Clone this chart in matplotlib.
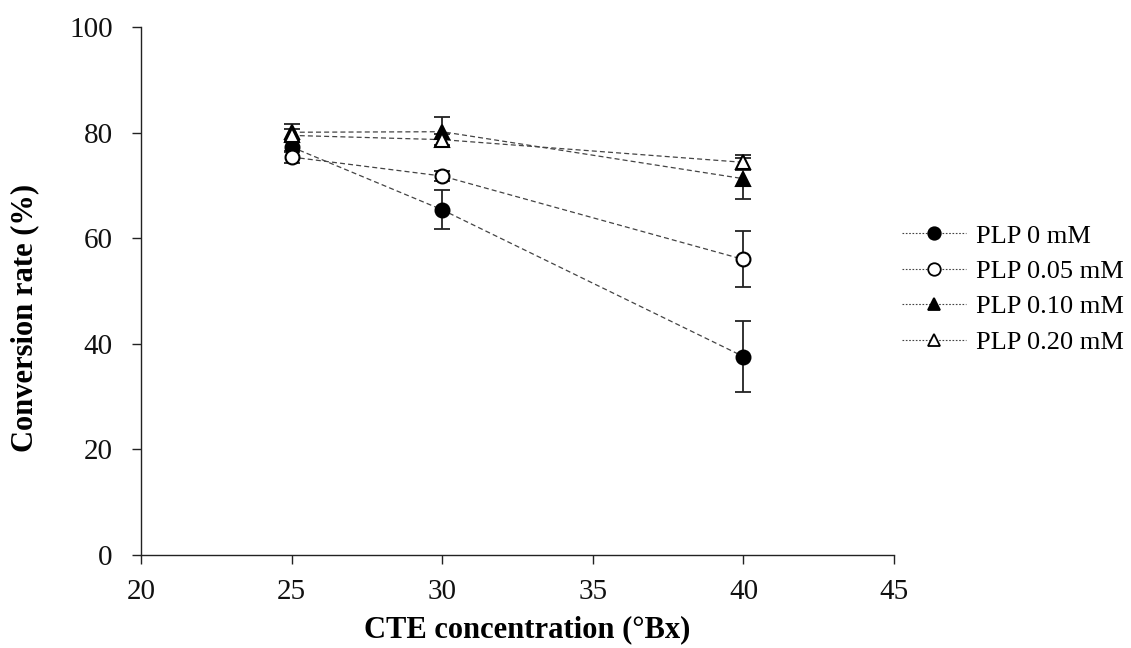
import matplotlib
matplotlib.use("Agg")
import matplotlib.pyplot as plt
import numpy as np

plt.rcParams['font.family'] = ['Liberation Serif', 'DejaVu Serif']

# CTE concentration (°Bx)
brix = [25, 30, 40]

# conversion rate (%) and error for each PLP dose
plp_0 = [77.3, 65.4, 37.6]
plp_0_err = [1.0, 3.7, 6.8]
plp_005 = [75.4, 71.8, 56.0]
plp_005_err = [1.2, 1.0, 5.3]
plp_010 = [80.1, 80.2, 71.3]
plp_010_err = [1.5, 2.8, 3.9]
plp_020 = [79.5, 78.7, 74.4]
plp_020_err = [1.2, 1.0, 1.4]

labels = ['PLP 0 mM', 'PLP 0.05 mM', 'PLP 0.10 mM', 'PLP 0.20 mM']

fig = plt.figure(figsize=(11.31, 6.48), dpi=100)
ax = fig.add_axes([0.1247, 0.1435, 0.6658, 0.8145])

series = [
    (plp_0, plp_0_err, 'o', 'black'),
    (plp_005, plp_005_err, 'o', 'white'),
    (plp_010, plp_010_err, '^', 'black'),
    (plp_020, plp_020_err, '^', 'white'),
]

for (vals, err, mk, fc), lab in zip(series, labels):
    ax.errorbar(brix, vals, yerr=err, fmt='none', ecolor='#222222',
                elinewidth=1.3, capsize=6, capthick=1.3, zorder=2)
    ax.plot(brix, vals, color='#444444', lw=0.9, dashes=(4, 2.5),
            zorder=3)
    ax.plot(brix, vals, ls='none', marker=mk, ms=10 if mk == 'o' else 10.5,
            mfc=fc, mec='black', mew=1.5, zorder=4)

# legend proxies: dotted line with marker in the middle
handles = []
for (vals, err, mk, fc), lab in zip(series, labels):
    h, = ax.plot([], [], color='#444444', lw=0.8, dashes=(1.5, 1.5),
                 marker=mk, ms=9, mfc=fc, mec='black',
                 mew=1.3, label=lab)
    handles.append(h)

leg = ax.legend(handles=handles, loc='center left',
                bbox_to_anchor=(1.01, 0.504), frameon=False, fontsize=19,
                handlelength=2.45, handletextpad=0.38, labelspacing=0.45,
                borderaxespad=0.0, borderpad=0.0)

ax.set_xlim(20, 45)
ax.set_ylim(0, 100)
ax.set_xticks([20, 25, 30, 35, 40, 45])
ax.set_yticks([0, 20, 40, 60, 80, 100])

for side in ['top', 'right']:
    ax.spines[side].set_visible(False)
for side in ['left', 'bottom']:
    ax.spines[side].set_linewidth(1.0)
    ax.spines[side].set_color('#222222')

ax.tick_params(axis='both', direction='out', length=6.5, width=1.0,
               labelsize=21, colors='#222222', labelcolor='#111111')
ax.tick_params(axis='y', pad=14)
ax.tick_params(axis='x', pad=11)

ax.set_xlabel('CTE concentration (°Bx)', fontsize=22, fontweight='bold')
ax.set_ylabel('Conversion rate (%)', fontsize=22, fontweight='bold')
ax.xaxis.set_label_coords(0.513, -0.142)
ax.yaxis.set_label_coords(-0.154, 0.449)
ax.xaxis.label.set_va('center')
ax.yaxis.label.set_va('center')

fig.savefig('out.png', dpi=100)
